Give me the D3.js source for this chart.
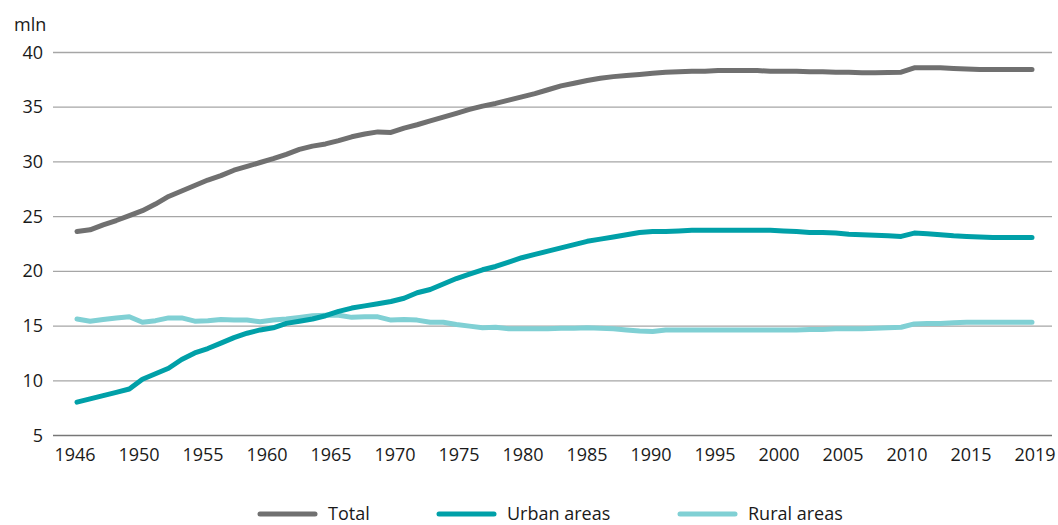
<!DOCTYPE html>
<html>
<head>
<meta charset="utf-8">
<script src="https://cdn.jsdelivr.net/npm/d3@7"></script>
<style>
  body { margin: 0; background: #fff; }
  svg text { font-family: "Open Sans", "Noto Sans", sans-serif; fill: #1a1a1a; }
  .grid line { stroke: #a6a6a6; stroke-width: 1.3; }
  .series { fill: none; stroke-width: 5; stroke-linejoin: round; stroke-linecap: round; }
</style>
</head>
<body>
<svg id="chart" width="1058" height="525"></svg>
<script>
// data (mln)
var years = d3.range(1946, 2020);

var total = [
  23.6, 23.75, 24.2, 24.6, 25.05, 25.5, 26.1, 26.8, 27.3, 27.8,
  28.3, 28.7, 29.2, 29.55, 29.9, 30.25, 30.65, 31.1, 31.4, 31.6,
  31.9, 32.25, 32.5, 32.7, 32.65, 33.05, 33.35, 33.7, 34.05, 34.4,
  34.75, 35.05, 35.3, 35.6, 35.9, 36.2, 36.55, 36.9, 37.15, 37.4,
  37.6, 37.75, 37.85, 37.95, 38.05, 38.15, 38.2, 38.25, 38.25, 38.3,
  38.3, 38.3, 38.3, 38.25, 38.25, 38.25, 38.2, 38.2, 38.15, 38.15,
  38.1, 38.1, 38.12, 38.15, 38.55, 38.55, 38.55, 38.5, 38.45, 38.4,
  38.4, 38.4, 38.4, 38.4
];

var urban = [
  8.0, 8.3, 8.6, 8.9, 9.2, 10.1, 10.6, 11.1, 11.9, 12.5,
  12.9, 13.4, 13.9, 14.3, 14.6, 14.8, 15.2, 15.4, 15.6, 15.9,
  16.3, 16.6, 16.8, 17.0, 17.2, 17.5, 18.0, 18.3, 18.8, 19.3,
  19.7, 20.1, 20.4, 20.8, 21.2, 21.5, 21.8, 22.1, 22.4, 22.7,
  22.9, 23.1, 23.3, 23.5, 23.6, 23.6, 23.65, 23.7, 23.7, 23.7,
  23.7, 23.7, 23.7, 23.7, 23.65, 23.6, 23.5, 23.5, 23.45, 23.35,
  23.3, 23.25, 23.2, 23.15, 23.45, 23.4, 23.3, 23.2, 23.15, 23.1,
  23.05, 23.05, 23.05, 23.05
];

var rural = [
  15.6, 15.4, 15.55, 15.7, 15.8, 15.3, 15.45, 15.7, 15.7, 15.4,
  15.45, 15.55, 15.5, 15.5, 15.35, 15.5, 15.6, 15.75, 15.9, 15.95,
  15.95, 15.75, 15.8, 15.8, 15.5, 15.55, 15.5, 15.3, 15.3, 15.1,
  14.95, 14.8, 14.85, 14.7, 14.7, 14.7, 14.7, 14.75, 14.75, 14.8,
  14.75, 14.7, 14.6, 14.5, 14.45, 14.6, 14.6, 14.6, 14.6, 14.6,
  14.6, 14.6, 14.6, 14.6, 14.6, 14.6, 14.65, 14.65, 14.7, 14.7,
  14.7, 14.75, 14.8, 14.85, 15.15, 15.2, 15.2, 15.25, 15.3, 15.3,
  15.3, 15.3, 15.3, 15.3
];

var xLabels = ["1946", "1950", "1955", "1960", "1965", "1970", "1975", "1980",
               "1985", "1990", "1995", "2000", "2005", "2010", "2015", "2019"];
var yTicks = [5, 10, 15, 20, 25, 30, 35, 40];

var seriesNames  = ["Total", "Urban areas", "Rural areas"];
var seriesColors = ["#707070", "#00a0a8", "#80d0d4"];
var seriesValues = [total, urban, rural];

var svg = d3.select("#chart");

var plotLeft = 53, plotRight = 1052, plotTop = 52, plotBottom = 435;

var x = d3.scaleLinear().domain([1946, 2019]).range([77, 1032]);
var xl = d3.scalePoint().domain(xLabels).range([74.5, 1034.5]);
var y = d3.scaleLinear().domain([5, 40]).range([plotBottom, plotTop]);

// gridlines + y labels
var ga = svg.append("g")
    .attr("class", "grid")
    .attr("transform", "translate(" + plotLeft + ",0)")
    .call(d3.axisLeft(y).tickValues(yTicks).tickSize(-(plotRight - plotLeft)).tickPadding(10));
ga.select(".domain").remove();
ga.selectAll("text").style("font-size", "18px").attr("x", -10).attr("dy", "0.34em");
ga.selectAll(".tick line").filter(function(d) { return d === 5; }).style("stroke", "#777");

svg.append("text")
    .attr("x", 14)
    .attr("y", 31)
    .style("font-size", "18px")
    .text("mln");

// x labels
var xa = svg.append("g")
    .attr("transform", "translate(0," + plotBottom + ")")
    .call(d3.axisBottom(xl).tickSize(0).tickPadding(13));
xa.select(".domain").remove();
xa.selectAll("text").style("font-size", "18px");

// lines
var line = d3.line()
    .x(function(d, i) { return x(years[i]); })
    .y(function(d) { return y(d); });

for (var s = seriesValues.length - 1; s >= 0; s--) {
    svg.append("path")
        .attr("class", "series")
        .attr("d", line(seriesValues[s]))
        .style("stroke", seriesColors[s]);
}

// legend
var legX = [260, 439, 680];
seriesNames.forEach(function(n, i) {
    svg.append("line")
        .attr("x1", legX[i]).attr("x2", legX[i] + 55)
        .attr("y1", 514).attr("y2", 514)
        .style("stroke", seriesColors[i])
        .style("stroke-width", 5)
        .style("stroke-linecap", "round");
    svg.append("text")
        .attr("x", legX[i] + 68)
        .attr("y", 520)
        .style("font-size", "18px")
        .text(n);
});
</script>
</body>
</html>
